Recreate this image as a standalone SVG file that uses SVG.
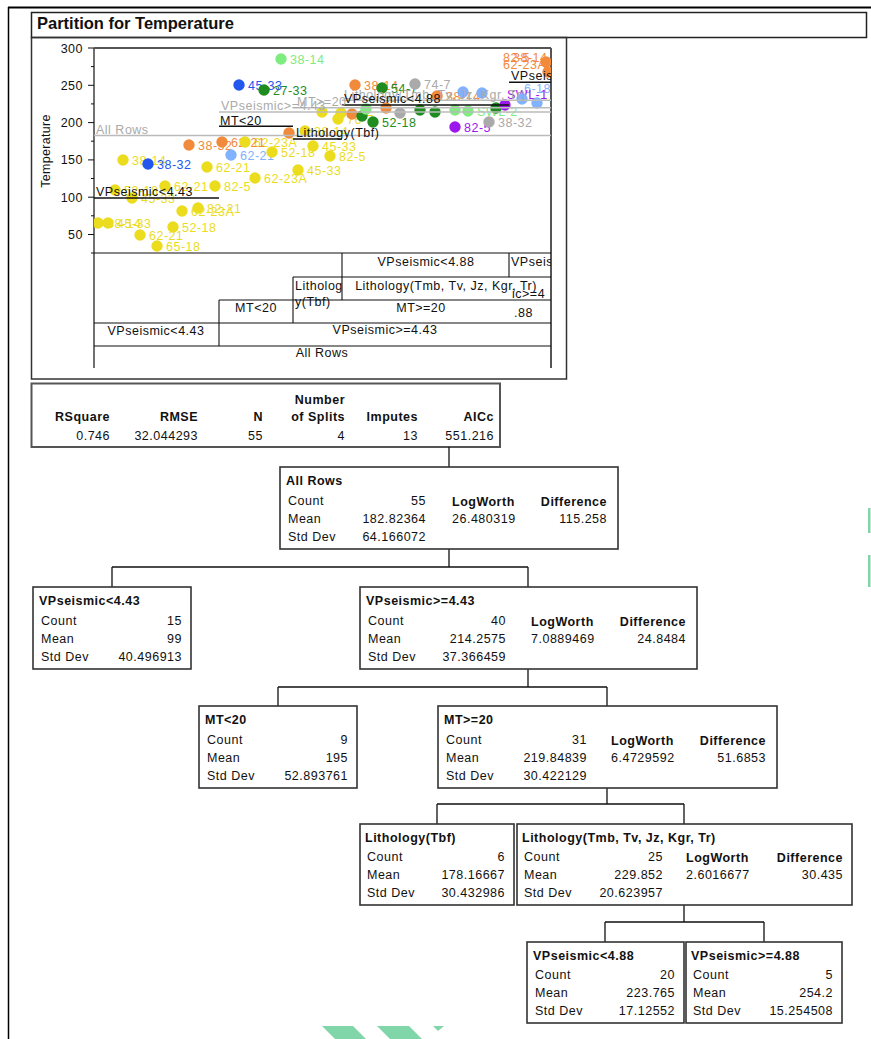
<svg xmlns="http://www.w3.org/2000/svg" width="871" height="1039" viewBox="0 0 871 1039">
  <style>
    .t{font-family:"Liberation Sans",Arial,Helvetica,sans-serif;font-size:12.5px;letter-spacing:0.5px;fill:#111}
    .b{font-weight:bold}
    .r{text-anchor:end}
    .m{text-anchor:middle}
    .box{fill:#fff;stroke:#333;stroke-width:1.6}
    .conn{stroke:#111;stroke-width:1.3;fill:none}
    .grid{stroke:#111;stroke-width:1.1;fill:none}
    .lk{stroke:#111;stroke-width:1.5}
    .lg{stroke:#bbb;stroke-width:1.5}
    .gt{fill:#aaa}
    .cy{fill:#ebdc1e}.co{fill:#f28a3c}.cd{fill:#1e8c1e}.cl{fill:#7eec7e}
    .cb{fill:#2356ee}.cs{fill:#80b2ff}.cp{fill:#9c16ee}.cg{fill:#aaaaaa}
    .wm{fill:#80d6a8}
  </style>
  <defs>
    <clipPath id="plotclip"><rect x="94" y="48" width="457" height="205"/></clipPath>
    <clipPath id="cellclip"><rect x="509" y="253" width="42" height="93"/></clipPath>
  </defs>
  <rect width="871" height="1039" fill="#fff"/>

  <!-- page frame -->
  <line x1="8" y1="7.5" x2="871" y2="7.5" stroke="#000" stroke-width="2"/>
  <line x1="8.5" y1="7" x2="8.5" y2="1039" stroke="#000" stroke-width="1.5"/>

  <!-- report header -->
  <g id="header">
    <rect x="31.5" y="12.5" width="835" height="25" fill="none" stroke="#222" stroke-width="1.5"/>
    <text x="37" y="28.5" class="t b" style="font-size:16.5px;letter-spacing:0">Partition for Temperature</text>
  </g>

  <!-- chart panel -->
  <g id="chart">
    <rect x="31.5" y="37.5" width="535" height="341.5" fill="none" stroke="#333" stroke-width="1.5"/>

    <!-- y axis -->
    <g id="yaxis">
      <line x1="94" y1="48" x2="94" y2="368" stroke="#111" stroke-width="1.2"/>
      <g stroke="#111" stroke-width="1">
        <line x1="88" y1="48" x2="94" y2="48"/>
        <line x1="88" y1="85.3" x2="94" y2="85.3"/>
        <line x1="88" y1="122.6" x2="94" y2="122.6"/>
        <line x1="88" y1="159.9" x2="94" y2="159.9"/>
        <line x1="88" y1="197.2" x2="94" y2="197.2"/>
        <line x1="88" y1="234.5" x2="94" y2="234.5"/>
        <line x1="91" y1="66.6" x2="94" y2="66.6"/>
        <line x1="91" y1="103.9" x2="94" y2="103.9"/>
        <line x1="91" y1="141.2" x2="94" y2="141.2"/>
        <line x1="91" y1="178.5" x2="94" y2="178.5"/>
        <line x1="91" y1="215.8" x2="94" y2="215.8"/>
        <line x1="91" y1="253" x2="94" y2="253"/>
      </g>
      <text x="83" y="52.5" class="t r">300</text>
      <text x="83" y="89.8" class="t r">250</text>
      <text x="83" y="127.1" class="t r">200</text>
      <text x="83" y="164.4" class="t r">150</text>
      <text x="83" y="201.7" class="t r">100</text>
      <text x="83" y="239" class="t r">50</text>
      <text transform="translate(50,151) rotate(-90)" class="t m" style="letter-spacing:0.3px">Temperature</text>
    </g>

    <!-- plot frame -->
    <line x1="94" y1="48" x2="551" y2="48" stroke="#555" stroke-width="2"/>
    <line x1="551" y1="48" x2="551" y2="368" stroke="#555" stroke-width="2"/>

    <!-- point labels and points -->
    <g id="points" clip-path="url(#plotclip)">
      <g class="t">
        <text x="132" y="165" class="cy">38-14</text>
        <text x="216" y="172" class="cy">62-21</text>
        <text x="174" y="191" class="cy">62-21</text>
        <text x="224" y="191" class="cy">82-5</text>
        <text x="124" y="195" class="cy">52-18</text>
        <text x="141" y="203" class="cy">45-33</text>
        <text x="107" y="228" class="cy">38-14</text>
        <text x="117" y="228" class="cy">45-33</text>
        <text x="149" y="240" class="cy">62-21</text>
        <text x="182" y="232" class="cy">52-18</text>
        <text x="166" y="251" class="cy">65-18</text>
        <text x="191" y="216" class="cy">62-23A</text>
        <text x="207" y="213" class="cy">82-21</text>
        <text x="264" y="183" class="cy">62-23A</text>
        <text x="254" y="147" class="cy">62-23A</text>
        <text x="281" y="157" class="cy">52-18</text>
        <text x="307" y="175" class="cy">45-33</text>
        <text x="322" y="151" class="cy">45-33</text>
        <text x="339" y="161" class="cy">82-5</text>
        <text x="314" y="136" class="cy">38-14</text>
        <text x="347" y="124" class="cy">76-7</text>
        <text x="198" y="150" class="co">38-32</text>
        <text x="231" y="147" class="co">62-21</text>
        <text x="364" y="90" class="co">38-14</text>
        <text x="446" y="101" class="co">38-14</text>
        <text x="503" y="62" class="co">82-5</text>
        <text x="513" y="62" class="co">38-14</text>
        <text x="503" y="69" class="co">62-23A</text>
        <text x="273" y="95" class="cd">27-33</text>
        <text x="391" y="93" class="cd">54-7</text>
        <text x="382" y="127" class="cd">52-18</text>
        <text x="290" y="64" class="cl">38-14</text>
        <text x="477" y="116" class="cl">SWL-2</text>
        <text x="248" y="90" class="cb">45-33</text>
        <text x="157" y="169" class="cb">38-32</text>
        <text x="240" y="160" class="cs">62-21</text>
        <text x="524" y="93" class="cs">6-18</text>
        <text x="507" y="99" class="cp">SWL-1</text>
        <text x="464" y="132" class="cp">82-5</text>
        <text x="424" y="89" class="cg">74-7</text>
        <text x="498" y="127" class="cg">38-32</text>
      </g>
      <g>
        <circle cx="123" cy="160" r="5.7" class="cy"/>
        <circle cx="207" cy="167" r="5.7" class="cy"/>
        <circle cx="165" cy="186" r="5.7" class="cy"/>
        <circle cx="215" cy="186" r="5.7" class="cy"/>
        <circle cx="115" cy="190" r="5.7" class="cy"/>
        <circle cx="132" cy="198" r="5.7" class="cy"/>
        <circle cx="98" cy="223" r="5.7" class="cy"/>
        <circle cx="108" cy="223" r="5.7" class="cy"/>
        <circle cx="140" cy="235" r="5.7" class="cy"/>
        <circle cx="173" cy="227" r="5.7" class="cy"/>
        <circle cx="157" cy="246" r="5.7" class="cy"/>
        <circle cx="182" cy="211" r="5.7" class="cy"/>
        <circle cx="198" cy="208" r="5.7" class="cy"/>
        <circle cx="255" cy="178" r="5.7" class="cy"/>
        <circle cx="245" cy="142" r="5.7" class="cy"/>
        <circle cx="272" cy="152" r="5.7" class="cy"/>
        <circle cx="298" cy="170" r="5.7" class="cy"/>
        <circle cx="313" cy="146" r="5.7" class="cy"/>
        <circle cx="330" cy="156" r="5.7" class="cy"/>
        <circle cx="305" cy="131" r="5.7" class="cy"/>
        <circle cx="338" cy="119" r="5.7" class="cy"/>
        <circle cx="322" cy="112" r="5.7" class="cy"/>
        <circle cx="341" cy="113" r="5.7" class="cy"/>
        <circle cx="189" cy="145" r="5.7" class="co"/>
        <circle cx="222" cy="142" r="5.7" class="co"/>
        <circle cx="289" cy="133" r="5.7" class="co"/>
        <circle cx="355" cy="85" r="5.7" class="co"/>
        <circle cx="437" cy="96" r="5.7" class="co"/>
        <circle cx="352" cy="114" r="5.7" class="co"/>
        <circle cx="386" cy="108" r="5.7" class="co"/>
        <circle cx="548" cy="72" r="5.7" class="co"/>
        <circle cx="546" cy="62" r="5.7" class="co"/>
        <circle cx="264" cy="90" r="5.7" class="cd"/>
        <circle cx="382" cy="88" r="5.7" class="cd"/>
        <circle cx="373" cy="122" r="5.7" class="cd"/>
        <circle cx="420" cy="110" r="5.7" class="cd"/>
        <circle cx="435" cy="112" r="5.7" class="cd"/>
        <circle cx="496" cy="108" r="5.7" class="cd"/>
        <circle cx="362" cy="116" r="5.7" class="cd"/>
        <circle cx="281" cy="59" r="5.7" class="cl"/>
        <circle cx="366" cy="109" r="5.7" class="cl"/>
        <circle cx="455" cy="110" r="5.7" class="cl"/>
        <circle cx="468" cy="111" r="5.7" class="cl"/>
        <circle cx="239" cy="85" r="5.7" class="cb"/>
        <circle cx="148" cy="164" r="5.7" class="cb"/>
        <circle cx="231" cy="155" r="5.7" class="cs"/>
        <circle cx="463" cy="92" r="5.7" class="cs"/>
        <circle cx="482" cy="93" r="5.7" class="cs"/>
        <circle cx="522" cy="99" r="5.7" class="cs"/>
        <circle cx="537" cy="103" r="5.7" class="cs"/>
        <circle cx="505" cy="105" r="5.7" class="cp"/>
        <circle cx="455" cy="127" r="5.7" class="cp"/>
        <circle cx="415" cy="84" r="5.7" class="cg"/>
        <circle cx="489" cy="122" r="5.7" class="cg"/>
        <circle cx="400" cy="113" r="5.7" class="cg"/>
      </g>
    </g>

    <!-- split mean lines -->
    <g id="split-lines">
      <line x1="94" y1="135.4" x2="551" y2="135.4" class="lg"/>
      <line x1="219" y1="112" x2="551" y2="112" class="lg"/>
      <line x1="293" y1="107.8" x2="551" y2="107.8" class="lg"/>
      <line x1="342" y1="100.3" x2="551" y2="100.3" class="lg"/>
      <line x1="94" y1="198" x2="219" y2="198" class="lk"/>
      <line x1="219" y1="126.3" x2="293" y2="126.3" class="lk"/>
      <line x1="293" y1="138.9" x2="342" y2="138.9" class="lk"/>
      <line x1="342" y1="104.9" x2="509" y2="104.9" class="lk"/>
      <line x1="509" y1="82.2" x2="551" y2="82.2" class="lk"/>
      <g clip-path="url(#plotclip)">
        <text x="96" y="134" class="t gt">All Rows</text>
        <text x="221" y="110" class="t gt">VPseismic&gt;=4.43</text>
        <text x="297" y="106" class="t gt">MT&gt;=20</text>
        <text x="344" y="98.5" class="t gt">Lithology(Tmb, Tv, Jz, Kgr, Tr)</text>
        <text x="96" y="196" class="t">VPseismic&lt;4.43</text>
        <text x="220" y="125" class="t">MT&lt;20</text>
        <text x="296" y="137" class="t">Lithology(Tbf)</text>
        <text x="344" y="103" class="t">VPseismic&lt;4.88</text>
        <text x="511" y="80" class="t">VPseismic&gt;=4.88</text>
      </g>
    </g>

    <!-- split tree map under the plot -->
    <g id="tree-map">
      <line x1="94" y1="253" x2="551" y2="253" class="grid"/>
      <line x1="293" y1="277" x2="551" y2="277" class="grid"/>
      <line x1="219" y1="300" x2="551" y2="300" class="grid"/>
      <line x1="94" y1="323" x2="551" y2="323" class="grid"/>
      <line x1="94" y1="346" x2="551" y2="346" class="grid"/>
      <line x1="219" y1="300" x2="219" y2="346" class="grid"/>
      <line x1="293" y1="277" x2="293" y2="323" class="grid"/>
      <line x1="342" y1="253" x2="342" y2="300" class="grid"/>
      <line x1="509" y1="253" x2="509" y2="277" class="grid"/>
      <text x="426" y="266" class="t m">VPseismic&lt;4.88</text>
      <g clip-path="url(#cellclip)">
        <text x="511" y="266" class="t">VPseis</text>
        <text x="512" y="298" class="t">ic&gt;=4</text>
        <text x="514" y="317" class="t">.88</text>
      </g>
      <text x="295" y="290" class="t">Litholog</text>
      <text x="295" y="306" class="t">y(Tbf)</text>
      <text x="446" y="290" class="t m">Lithology(Tmb, Tv, Jz, Kgr, Tr)</text>
      <text x="421" y="312" class="t m">MT&gt;=20</text>
      <text x="256" y="312" class="t m">MT&lt;20</text>
      <text x="156" y="335" class="t m">VPseismic&lt;4.43</text>
      <text x="385" y="334" class="t m">VPseismic&gt;=4.43</text>
      <text x="322" y="357" class="t m">All Rows</text>
    </g>
  </g>

  <!-- fit summary -->
  <g id="summary">
    <rect x="31.5" y="383.5" width="468.5" height="63.5" fill="#fff" stroke="#555" stroke-width="2"/>
    <g class="t b r">
      <text x="345" y="404">Number</text>
      <text x="110" y="421">RSquare</text>
      <text x="198" y="421">RMSE</text>
      <text x="263" y="421">N</text>
      <text x="345" y="421">of Splits</text>
      <text x="418" y="421">Imputes</text>
      <text x="494" y="421">AICc</text>
    </g>
    <g class="t r">
      <text x="110" y="440">0.746</text>
      <text x="198" y="440">32.044293</text>
      <text x="263" y="440">55</text>
      <text x="345" y="440">4</text>
      <text x="418" y="440">13</text>
      <text x="494" y="440">551.216</text>
    </g>
  </g>

  <!-- tree connectors -->
  <g id="connectors" class="conn">
    <path d="M449 447V467"/>
    <path d="M449 549V567M112 567H528M112 567V587M528 567V587"/>
    <path d="M528 669V687M278 687H607M278 687V706M607 687V706"/>
    <path d="M607 788V804M437 804H684M437 804V824M684 804V824"/>
    <path d="M684 905V922M605 922H764M605 922V942M764 922V942"/>
  </g>

  <!-- tree nodes -->
  <g id="node-all-rows">
    <rect x="280" y="467" width="338" height="82" class="box"/>
    <text x="286" y="485" class="t b">All Rows</text>
    <text x="288" y="505" class="t">Count</text><text x="426" y="505" class="t r">55</text>
    <text x="288" y="523" class="t">Mean</text><text x="426" y="523" class="t r">182.82364</text>
    <text x="288" y="541" class="t">Std Dev</text><text x="426" y="541" class="t r">64.166072</text>
    <text x="452" y="506" class="t b">LogWorth</text><text x="452" y="523" class="t">26.480319</text>
    <text x="607" y="506" class="t b r">Difference</text><text x="607" y="523" class="t r">115.258</text>
  </g>

  <g id="node-vp-lt-443">
    <rect x="33" y="587" width="158" height="82" class="box"/>
    <text x="39" y="605" class="t b">VPseismic&lt;4.43</text>
    <text x="41" y="625" class="t">Count</text><text x="182" y="625" class="t r">15</text>
    <text x="41" y="643" class="t">Mean</text><text x="182" y="643" class="t r">99</text>
    <text x="41" y="661" class="t">Std Dev</text><text x="182" y="661" class="t r">40.496913</text>
  </g>

  <g id="node-vp-ge-443">
    <rect x="360" y="587" width="337" height="82" class="box"/>
    <text x="366" y="605" class="t b">VPseismic&gt;=4.43</text>
    <text x="368" y="625" class="t">Count</text><text x="506" y="625" class="t r">40</text>
    <text x="368" y="643" class="t">Mean</text><text x="506" y="643" class="t r">214.2575</text>
    <text x="368" y="661" class="t">Std Dev</text><text x="506" y="661" class="t r">37.366459</text>
    <text x="531" y="626" class="t b">LogWorth</text><text x="531" y="643" class="t">7.0889469</text>
    <text x="686" y="626" class="t b r">Difference</text><text x="686" y="643" class="t r">24.8484</text>
  </g>

  <g id="node-mt-lt-20">
    <rect x="199" y="706" width="158" height="82" class="box"/>
    <text x="205" y="724" class="t b">MT&lt;20</text>
    <text x="207" y="744" class="t">Count</text><text x="348" y="744" class="t r">9</text>
    <text x="207" y="762" class="t">Mean</text><text x="348" y="762" class="t r">195</text>
    <text x="207" y="780" class="t">Std Dev</text><text x="348" y="780" class="t r">52.893761</text>
  </g>

  <g id="node-mt-ge-20">
    <rect x="438" y="706" width="339" height="82" class="box"/>
    <text x="444" y="724" class="t b">MT&gt;=20</text>
    <text x="446" y="744" class="t">Count</text><text x="587" y="744" class="t r">31</text>
    <text x="446" y="762" class="t">Mean</text><text x="587" y="762" class="t r">219.84839</text>
    <text x="446" y="780" class="t">Std Dev</text><text x="587" y="780" class="t r">30.422129</text>
    <text x="611" y="745" class="t b">LogWorth</text><text x="611" y="762" class="t">6.4729592</text>
    <text x="766" y="745" class="t b r">Difference</text><text x="766" y="762" class="t r">51.6853</text>
  </g>

  <g id="node-lith-tbf">
    <rect x="360" y="824" width="154" height="81" class="box"/>
    <text x="365" y="842" class="t b">Lithology(Tbf)</text>
    <text x="367" y="861" class="t">Count</text><text x="505" y="861" class="t r">6</text>
    <text x="367" y="879" class="t">Mean</text><text x="505" y="879" class="t r">178.16667</text>
    <text x="367" y="897" class="t">Std Dev</text><text x="505" y="897" class="t r">30.432986</text>
  </g>

  <g id="node-lith-other">
    <rect x="517" y="824" width="335" height="81" class="box"/>
    <text x="522" y="842" class="t b">Lithology(Tmb, Tv, Jz, Kgr, Tr)</text>
    <text x="524" y="861" class="t">Count</text><text x="663" y="861" class="t r">25</text>
    <text x="524" y="879" class="t">Mean</text><text x="663" y="879" class="t r">229.852</text>
    <text x="524" y="897" class="t">Std Dev</text><text x="663" y="897" class="t r">20.623957</text>
    <text x="686" y="862" class="t b">LogWorth</text><text x="686" y="879" class="t">2.6016677</text>
    <text x="843" y="862" class="t b r">Difference</text><text x="843" y="879" class="t r">30.435</text>
  </g>

  <g id="node-vp-lt-488">
    <rect x="527" y="942" width="157" height="81" class="box"/>
    <text x="533" y="960" class="t b">VPseismic&lt;4.88</text>
    <text x="535" y="979" class="t">Count</text><text x="675" y="979" class="t r">20</text>
    <text x="535" y="997" class="t">Mean</text><text x="675" y="997" class="t r">223.765</text>
    <text x="535" y="1015" class="t">Std Dev</text><text x="675" y="1015" class="t r">17.12552</text>
  </g>

  <g id="node-vp-ge-488">
    <rect x="686" y="942" width="156" height="81" class="box"/>
    <text x="691" y="960" class="t b">VPseismic&gt;=4.88</text>
    <text x="693" y="979" class="t">Count</text><text x="833" y="979" class="t r">5</text>
    <text x="693" y="997" class="t">Mean</text><text x="833" y="997" class="t r">254.2</text>
    <text x="693" y="1015" class="t">Std Dev</text><text x="833" y="1015" class="t r">15.254508</text>
  </g>

  <!-- green marks at the page edges -->
  <g id="edge-marks" class="wm">
    <rect x="868" y="508" width="2.5" height="25"/>
    <rect x="868" y="555" width="2.5" height="32"/>
    <polygon points="322,1026 353,1026 366,1039 335,1039"/>
    <polygon points="377,1026 409,1026 422,1039 390,1039"/>
    <polygon points="433,1026 444,1026 438,1031"/>
  </g>
</svg>
